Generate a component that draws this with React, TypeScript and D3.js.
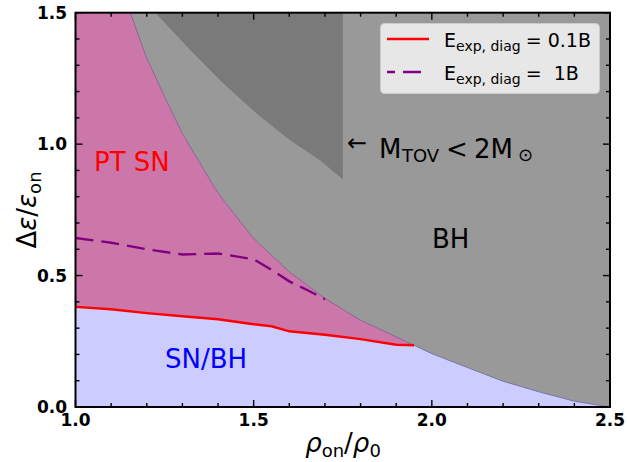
import React from "react";
import * as d3 from "d3";

// boundary between PT SN / SN-BH and the BH region
const boundaryX = [1.154, 1.196, 1.25, 1.3, 1.392, 1.415, 1.5, 1.6, 1.7, 1.8, 1.95, 2.0, 2.1, 2.2, 2.3, 2.4, 2.5];
const boundaryY = [1.5, 1.34, 1.18, 1.04, 0.831, 0.787, 0.641, 0.514, 0.413, 0.33, 0.235, 0.203, 0.15, 0.098, 0.058, 0.022, 0];

// M_TOV < 2 Msun region
const darkX = [1.224, 1.322, 1.415, 1.508, 1.602, 1.686, 1.75];
const darkY = [1.5, 1.358, 1.231, 1.117, 1.015, 0.939, 0.866];

// E_exp,diag = 0.1B
const redX = [1.0, 1.1, 1.2, 1.3, 1.4, 1.5, 1.55, 1.6, 1.7, 1.8, 1.9, 1.95];
const redY = [0.381, 0.372, 0.357, 0.345, 0.334, 0.315, 0.307, 0.288, 0.275, 0.258, 0.237, 0.235];

// E_exp,diag = 1B
const dashX = [1.0, 1.1, 1.2, 1.3, 1.4, 1.5, 1.55, 1.6, 1.65, 1.7];
const dashY = [0.643, 0.625, 0.6, 0.58, 0.584, 0.562, 0.522, 0.478, 0.445, 0.41];

const xTicks = ["1.0", "1.5", "2.0", "2.5"];
const yTicks = ["0.0", "0.5", "1.0", "1.5"];

const W = 627;
const H = 462;
const font = "DejaVu Sans";

const App = () => {
  const x = d3.scaleLinear().domain([1, 2.5]).range([75.5, 610]);
  const y = d3.scaleLinear().domain([0, 1.5]).range([407, 12.7]);
  const line = d3.line<number[]>().x(d => x(d[0])).y(d => y(d[1]));

  const boundary = boundaryX.map((v, i) => [v, boundaryY[i]]);
  const dark = darkX.map((v, i) => [v, darkY[i]]);
  const red = redX.map((v, i) => [v, redY[i]]);
  const dash = dashX.map((v, i) => [v, dashY[i]]);

  const iEnd = boundaryX.indexOf(1.95);
  const pink = [...red, ...boundary.slice(0, iEnd + 1).reverse(), [1.0, 1.5]];
  const gray = [...boundary, [2.5, 1.5]];
  const darkPoly = [...dark, [1.75, 1.5]];

  const [x0, x1] = x.range();
  const [y0, y1] = y.range();

  const minorX = d3.range(10, 26).map(v => v / 10);
  const minorY = d3.range(0, 16).map(v => v / 10);

  return (
    <div style={{ position: "absolute", left: 0, top: 0 }}>
      <svg width={W} height={H} fontFamily={font}>
        <rect x={0} y={0} width={W} height={H} fill="#fff" />
        <rect x={x0} y={y1} width={x1 - x0} height={y0 - y1} fill="#ccccff" />
        <path d={line(pink) + "Z"} fill="#cc77aa" />
        <path d={line(gray) + "Z"} fill="#999999" />
        <path d={line(darkPoly) + "Z"} fill="#7a7a7a" />
        <path d={line(boundary.slice(0, iEnd + 1)) ?? ""} fill="none" stroke="#8a5a90" strokeWidth={0.9} />
        <path d={line(boundary.slice(iEnd)) ?? ""} fill="none" stroke="#7070a8" strokeWidth={0.9} />
        <path d={line(red) ?? ""} fill="none" stroke="#ff0000" strokeWidth={2.4} />
        <path d={line(dash) ?? ""} fill="none" stroke="#800080" strokeWidth={2.4} strokeDasharray="18 8" />

        {/* ticks */}
        {minorX.map(v => {
          const major = Math.abs(v * 2 - Math.round(v * 2)) < 1e-6;
          const len = major ? 7 : 4;
          return (
            <g key={"xt" + v} stroke="#000" strokeWidth={1.4}>
              <line x1={x(v)} x2={x(v)} y1={y0} y2={y0 - len} />
              <line x1={x(v)} x2={x(v)} y1={y1} y2={y1 + len} />
            </g>
          );
        })}
        {minorY.map(v => {
          const major = Math.abs(v * 2 - Math.round(v * 2)) < 1e-6;
          const len = major ? 7 : 4;
          return (
            <g key={"yt" + v} stroke="#000" strokeWidth={1.4}>
              <line x1={x0} x2={x0 + len} y1={y(v)} y2={y(v)} />
              <line x1={x1} x2={x1 - len} y1={y(v)} y2={y(v)} />
            </g>
          );
        })}
        <rect x={x0} y={y1} width={x1 - x0} height={y0 - y1} fill="none" stroke="#000" strokeWidth={2} />

        {xTicks.map(t => (
          <text key={t} x={x(+t)} y={426} textAnchor="middle" fontSize={17} fontWeight="bold">{t}</text>
        ))}
        {yTicks.map(t => (
          <text key={t} x={67} y={y(+t) + 6} textAnchor="end" fontSize={17} fontWeight="bold">{t}</text>
        ))}

        {/* axis labels */}
        <text x={343} y={452} textAnchor="middle" fontSize={26}>
          <tspan fontStyle="italic">ρ</tspan>
          <tspan fontSize={18} dy={5}>on</tspan>
          <tspan dy={-5}>/</tspan>
          <tspan fontStyle="italic">ρ</tspan>
          <tspan fontSize={18} dy={5}>0</tspan>
        </text>
        <text transform="translate(36,210) rotate(-90)" textAnchor="middle" fontSize={26}>
          <tspan>Δ</tspan>
          <tspan fontStyle="italic">ε</tspan>
          <tspan>/</tspan>
          <tspan fontStyle="italic">ε</tspan>
          <tspan fontSize={18} dy={5}>on</tspan>
        </text>

        {/* annotations */}
        <text x={94} y={171} fontSize={26} fill="#ff0000">PT SN</text>
        <text x={165} y={368} fontSize={26} fill="#0000ff">SN/BH</text>
        <text x={432} y={248} fontSize={26} fill="#000">BH</text>
        <g fill="#000">
          <text x={347} y={151} fontSize={24}>←</text>
          <text x={379} y={158} fontSize={26}>M</text>
          <text x={402} y={162} fontSize={18}>TOV</text>
          <text x={446} y={158} fontSize={26}>{"<"}</text>
          <text x={474} y={158} fontSize={26}>2M</text>
          <text x={518} y={161} fontSize={18}>⊙</text>
        </g>

        {/* legend */}
        <rect x={380.5} y={23.5} width={219} height={70} rx={4} fill="#ebebeb" fillOpacity={0.95} stroke="#cccccc" />
        <line x1={387} x2={429} y1={39} y2={39} stroke="#ff0000" strokeWidth={2.4} />
        <line x1={387} x2={429} y1={72} y2={72} stroke="#800080" strokeWidth={2.4} strokeDasharray="18 8" strokeDashoffset={10} />
        <text x={444} y={47} fontSize={19} style={{ whiteSpace: "pre" }}>
          <tspan>E</tspan>
          <tspan fontSize={14} dy={4}>exp, diag</tspan>
          <tspan dx={5} dy={-4}>= 0.1B</tspan>
        </text>
        <text x={444} y={80} fontSize={19} style={{ whiteSpace: "pre" }}>
          <tspan>E</tspan>
          <tspan fontSize={14} dy={4}>exp, diag</tspan>
          <tspan dx={5} dy={-4}>{"=  1B"}</tspan>
        </text>
      </svg>
    </div>
  );
};

export default App;
